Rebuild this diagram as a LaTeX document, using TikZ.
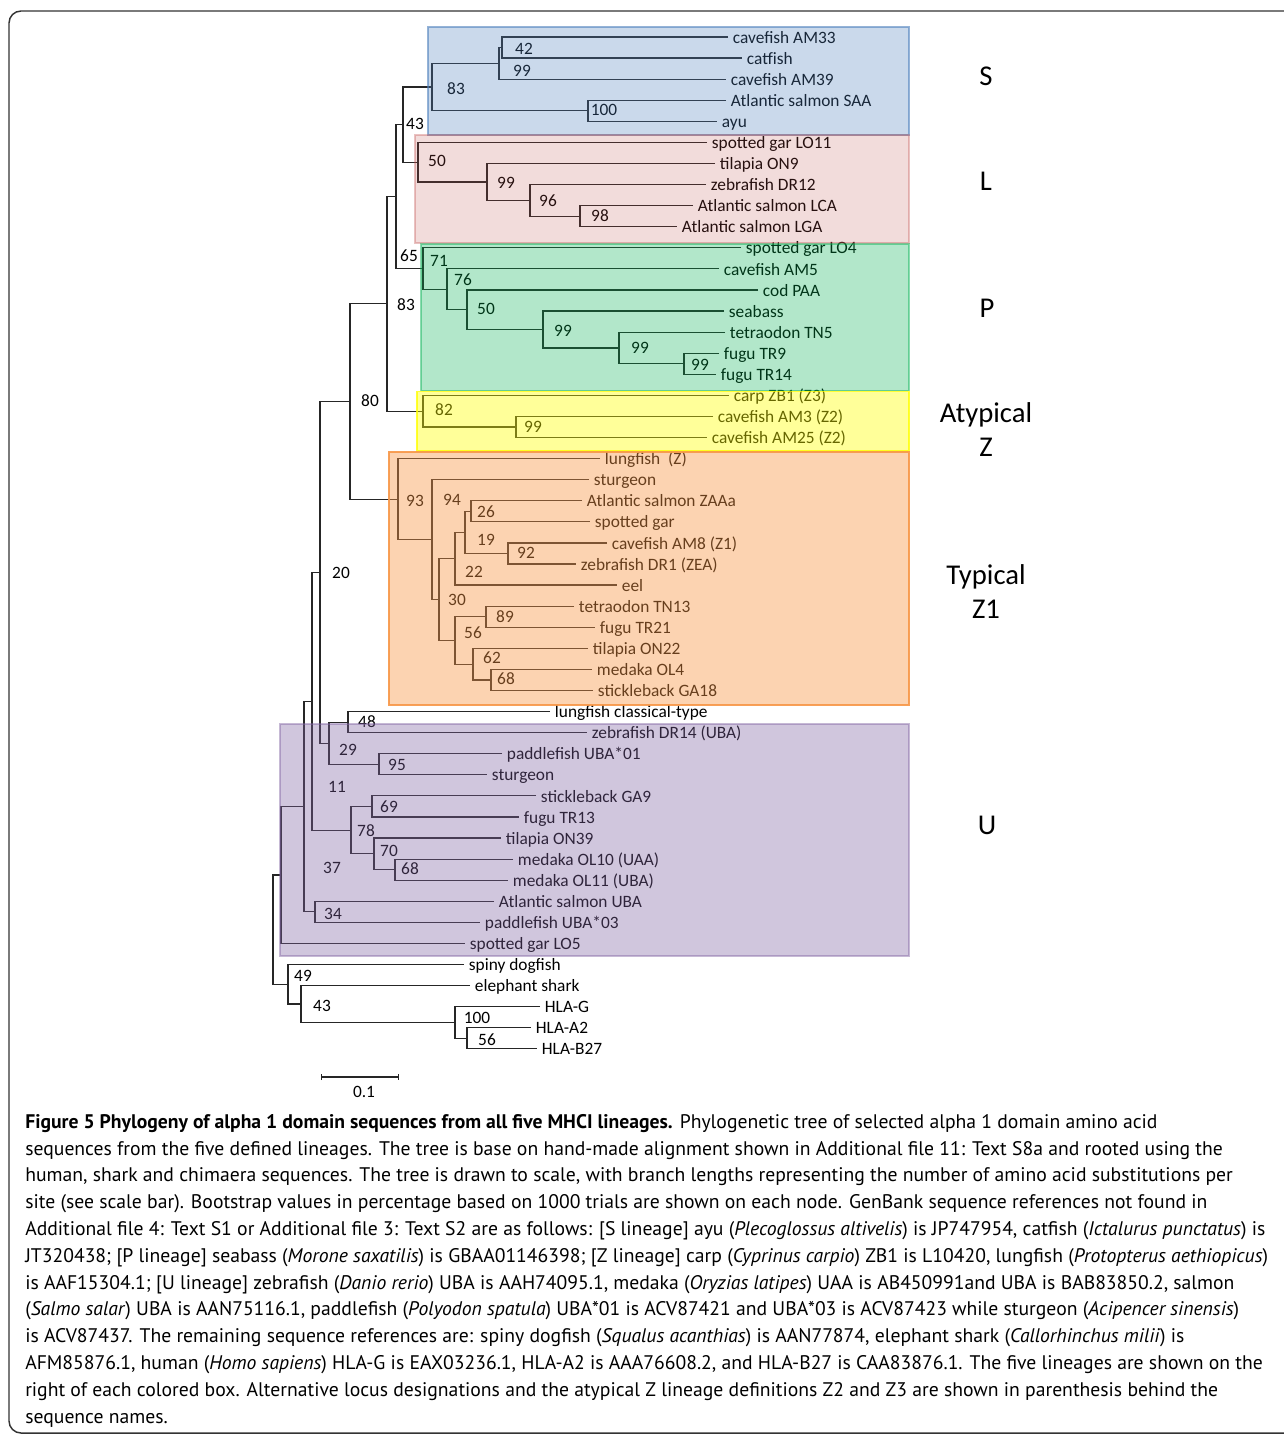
\documentclass[tikz,border=0pt]{standalone}
\usepackage{fontspec}
\setmainfont{Carlito}
\newfontfamily\figcapfont{PT Sans}
\usetikzlibrary{
    arrows.meta
}
\definecolor{lineS}{HTML}{4F81BD}
\definecolor{lineL}{HTML}{C0504D}
\definecolor{lineP}{HTML}{00B050}
\definecolor{lineZ}{HTML}{FFFF00}
\definecolor{lineZone}{HTML}{F79646}
\definecolor{lineU}{HTML}{8064A2}
\tikzset {
    branch/.style = {draw = black!85, line width = 0.9pt},
    leaf/.style = {
        anchor = west,
        inner xsep = 3.5pt,
        inner ysep = 0pt,
        text height = 0.92em,
        text depth = 0pt,
        font = \fontsize{13}{15}\selectfont
    },
    boot/.style = {
        inner sep = 0pt,
        text height = 0.64em,
        text depth = 0pt,
        font = \fontsize{13}{15}\selectfont
    },
    lineage/.style args = {#1/#2/#3}{
        fill = #1, fill opacity = #2,
        draw = #1, draw opacity = #3,
        line width = 0.8pt
    },
    clade/.style = {
        align = center,
        font = \fontsize{21.5}{25.5}\selectfont
    },
    frame/.style = {
        draw = black!80, line width = 1.1pt, rounded corners = 9pt
    },
    caption/.style = {
        anchor = north west,
        align = left,
        inner sep = 0pt,
        font = \figcapfont\fontsize{14.75}{20.1}\selectfont
    }
}

\begin{document}
\begin{tikzpicture}[
        x = 0.75pt, y = -0.75pt,
        declare function = {row(\r) = 37 + 21.08*(\r - 1);}
    ]
    \useasboundingbox (0, 0) rectangle (1284, 1435);
    \draw [frame] (9, 11) rectangle (1300, 1433);
    %
    \foreach \xe/\lf [count = \i] in {
        728/cavefish AM33, 742/catfish, 726/cavefish AM39,
        726/Atlantic salmon SAA, 717/ayu,
        707/spotted gar LO11, 715/tilapia ON9, 706/zebrafish DR12,
        693/Atlantic salmon LCA, 677/Atlantic salmon LGA,
        741/spotted gar LO4, 719/cavefish AM5, 758/cod PAA, 724/seabass,
        725/tetraodon TN5, 719/fugu TR9, 716/fugu TR14,
        729/carp ZB1 (Z3), 713/cavefish AM3 (Z2), 707/cavefish AM25 (Z2),
        600/lungfish~~(Z), 589/sturgeon, 582/Atlantic salmon ZAAa,
        590/spotted gar, 607/cavefish AM8 (Z1), 576/zebrafish DR1 (ZEA),
        617/eel, 574/tetraodon TN13, 595/fugu TR21, 588/tilapia ON22,
        592/medaka OL4, 593/stickleback GA18,
        550/lungfish classical-type, 587/zebrafish DR14 (UBA),
        502/paddlefish UBA*01, 487/sturgeon, 536/stickleback GA9,
        519/fugu TR13, 501/tilapia ON39, 513/medaka OL10 (UAA),
        508/medaka OL11 (UBA), 494/Atlantic salmon UBA,
        480/paddlefish UBA*03, 465/spotted gar LO5,
        464/spiny dogfish, 470/elephant shark,
        540/HLA-G, 531/HLA-A2, 537/HLA-B27
    }
        \node [leaf] (l\i) at (\xe, {row(\i)}) {\lf};
    %
    % S
    \draw [branch] (l1) -| (502, {row(1.5)}) coordinate (s42) |- (l2);
    \draw [branch] (s42) -| (499, {row(2.25)}) coordinate (s99) |- (l3);
    \draw [branch] (l4) -| (588, {row(4.5)}) coordinate (s100) |- (l5);
    \draw [branch] (s99) -| (432, {row(3.375)}) coordinate (s83) |- (s100);
    \node [boot] (s42b) at (524, 50) {42};
    \node [boot] (s99b) at (522, 72) {99};
    \node [boot] (s83b) at (456, 90) {83};
    \node [boot] (s100b) at (604, 111) {100};
    % L
    \draw [branch] (l9) -| (580, {row(9.5)}) coordinate (g98) |- (l10);
    \draw [branch] (l8) -| (530, {row(8.75)}) coordinate (g96) |- (g98);
    \draw [branch] (l7) -| (487, {row(7.875)}) coordinate (g99) |- (g96);
    \draw [branch] (l6) -| (418, {row(6.9375)}) coordinate (g50) |- (g99);
    \draw [branch] (s83) -| (403, {row(5.15625)}) coordinate (n43) |- (g50);
    \node [boot] (g50b) at (437, 162) {50};
    \node [boot] (g99b) at (506, 184) {99};
    \node [boot] (g96b) at (548, 202) {96};
    \node [boot] (g98b) at (600, 217) {98};
    \node [boot] (n43b) at (415, 125) {43};
    % P
    \draw [branch] (l16) -| (684, {row(16.5)}) coordinate (p99c) |- (l17);
    \draw [branch] (l15) -| (619, {row(15.75)}) coordinate (p99b) |- (p99c);
    \draw [branch] (l14) -| (543, {row(14.875)}) coordinate (p99a) |- (p99b);
    \draw [branch] (l13) -| (467, {row(13.9375)}) coordinate (p50) |- (p99a);
    \draw [branch] (l12) -| (447, {row(12.96875)}) coordinate (p76) |- (p50);
    \draw [branch] (l11) -| (423, {row(11.984375)}) coordinate (p71) |- (p76);
    \draw [branch] (n43) -| (396, {row(8.5703125)}) coordinate (n65) |- (p71);
    \node [boot] (n65b) at (409, 257) {65};
    \node [boot] (p71b) at (439, 262) {71};
    \node [boot] (p76b) at (463, 281) {76};
    \node [boot] (p50b) at (486, 310) {50};
    \node [boot] (p99ab) at (563, 332) {99};
    \node [boot] (p99bb) at (640, 349) {99};
    \node [boot] (p99cb) at (700, 366) {99};
    % atypical Z
    \draw [branch] (l19) -| (516, {row(19.5)}) coordinate (a99) |- (l20);
    \draw [branch] (l18) -| (423, {row(18.75)}) coordinate (a82) |- (a99);
    \draw [branch] (n65) -| (387, {row(13.66015625)}) coordinate (n83) |- (a82);
    \node [boot] (n83b) at (406, 306) {83};
    \node [boot] (a82b) at (444, 411) {82};
    \node [boot] (a99b) at (533, 428) {99};
    % typical Z1
    \draw [branch] (l23) -| (471, {row(23.5)}) coordinate (t26) |- (l24);
    \draw [branch] (l25) -| (508, {row(25.5)}) coordinate (t92) |- (l26);
    \draw [branch] (t26) -| (465, {row(24.5)}) coordinate (t19) |- (t92);
    \draw [branch] (t19) -| (455, {row(25.75)}) coordinate (t22) |- (l27);
    \draw [branch] (l28) -| (486, {row(28.5)}) coordinate (t89) |- (l29);
    \draw [branch] (l31) -| (491, {row(31.5)}) coordinate (t68) |- (l32);
    \draw [branch] (l30) -| (473, {row(30.75)}) coordinate (t62) |- (t68);
    \draw [branch] (t89) -| (455, {row(29.625)}) coordinate (t56) |- (t62);
    \draw [branch] (t22) -| (439, {row(27.6875)}) coordinate (t30) |- (t56);
    \draw [branch] (l22) -| (432, {row(24.84375)}) coordinate (t94) |- (t30);
    \draw [branch] (l21) -| (398, {row(22.921875)}) coordinate (t93) |- (t94);
    \draw [branch] (n83) -| (350, {row(18.291015625)}) coordinate (n80) |- (t93);
    \node [boot] (n80b) at (370, 402) {80};
    \node [boot] (t93b) at (415, 502) {93};
    \node [boot] (t94b) at (452, 501) {94};
    \node [boot] (t26b) at (486, 513) {26};
    \node [boot] (t19b) at (486, 541) {19};
    \node [boot] (t92b) at (526, 554) {92};
    \node [boot] (t22b) at (474, 573) {22};
    \node [boot] (t30b) at (457, 601) {30};
    \node [boot] (t89b) at (505, 618) {89};
    \node [boot] (t56b) at (473, 634) {56};
    \node [boot] (t62b) at (492, 659) {62};
    \node [boot] (t68b) at (506, 680) {68};
    % U
    \draw [branch] (l33) -| (348, {row(33.5)}) coordinate (u48) |- (l34);
    \draw [branch] (l35) -| (379, {row(35.5)}) coordinate (u95) |- (l36);
    \draw [branch] (u48) -| (329, {row(34.5)}) coordinate (u29) |- (u95);
    \draw [branch] (n80) -| (320, {row(26.3955)}) coordinate (n20) |- (u29);
    \draw [branch] (l37) -| (372, {row(37.5)}) coordinate (u69) |- (l38);
    \draw [branch] (l40) -| (395, {row(40.5)}) coordinate (u68) |- (l41);
    \draw [branch] (l39) -| (374, {row(39.75)}) coordinate (u70) |- (u68);
    \draw [branch] (u69) -| (351, {row(38.625)}) coordinate (u78) |- (u70);
    \draw [branch] (n20) -| (312, {row(32.5103)}) coordinate (n11) |- (u78);
    \draw [branch] (l42) -| (315, {row(42.5)}) coordinate (u34) |- (l43);
    \draw [branch] (n11) -| (304, {row(37.505)}) coordinate (n37) |- (u34);
    \draw [branch] (n37) -| (281, {row(40.75)}) coordinate (nU) |- (l44);
    \node [boot] (n20b) at (341, 574) {20};
    \node [boot] (u48b) at (367, 723) {48};
    \node [boot] (u29b) at (348, 751) {29};
    \node [boot] (u95b) at (397, 766) {95};
    \node [boot] (n11b) at (337, 788) {11};
    \node [boot] (u69b) at (389, 808) {69};
    \node [boot] (u78b) at (366, 832) {78};
    \node [boot] (u70b) at (389, 852) {70};
    \node [boot] (n37b) at (332, 869) {37};
    \node [boot] (u68b) at (410, 870) {68};
    \node [boot] (u34b) at (333, 915) {34};
    % sharks and human
    \draw [branch] (l48) -| (467, {row(48.5)}) coordinate (h56) |- (l49);
    \draw [branch] (l47) -| (455, {row(47.75)}) coordinate (h100) |- (h56);
    \draw [branch] (l46) -| (301, {row(46.875)}) coordinate (h43) |- (h100);
    \draw [branch] (l45) -| (288, {row(45.9375)}) coordinate (h49) |- (h43);
    \draw [branch] (nU) -| (273, {row(43.34)}) coordinate (root) |- (h49);
    \node [boot] (h49b) at (303, 977) {49};
    \node [boot] (h43b) at (322, 1007) {43};
    \node [boot] (h100b) at (477, 1019) {100};
    \node [boot] (h56b) at (487, 1041) {56};
    %
    \path [lineage = lineS/0.3/0.6] (428, 27) rectangle (909, 135);
    \path [lineage = lineL/0.2/0.35] (415, 135) rectangle (909, 243);
    \path [lineage = lineP/0.3/0.45] (421, 244) rectangle (909, 390.5);
    \path [lineage = lineZ/0.4/0.8] (417, 391.5) rectangle (909, 451);
    \path [lineage = lineZone/0.42/0.9] (389, 452) rectangle (909, 705);
    \path [lineage = lineU/0.37/0.45] (280, 724) rectangle (909, 956);
    %
    \node [clade] (cS) at (986, 76) {S};
    \node [clade] (cL) at (986, 181) {L};
    \node [clade] (cP) at (987, 308) {P};
    \node [clade] (cZ) at (986, 430) {Atypical\\Z};
    \node [clade] (cZone) at (986, 592) {Typical\\Z1};
    \node [clade] (cU) at (987, 825) {U};
    %
    \coordinate (sbl) at (321, 1077);
    \coordinate (sbr) at (399, 1077);
    \draw [branch, {Bar[width = 4.5pt]}-{Bar[width = 4.5pt]}] (sbl) -- (sbr);
    \node [boot] (sbt) at (364, 1093) {0.1};
    %
    \node [caption] (cap) at (25, 1114) {%
        \textbf{Figure 5 Phylogeny of alpha 1 domain sequences from all five MHCI lineages.} Phylogenetic tree of selected alpha 1 domain amino acid\\
        sequences from the five defined lineages. The tree is base on hand-made alignment shown in Additional file 11: Text S8a and rooted using the\\
        human, shark and chimaera sequences. The tree is drawn to scale, with branch lengths representing the number of amino acid substitutions per\\
        site (see scale bar). Bootstrap values in percentage based on 1000 trials are shown on each node. GenBank sequence references not found in\\
        Additional file 4: Text S1 or Additional file 3: Text S2 are as follows: [S lineage] ayu (\textit{Plecoglossus altivelis}) is JP747954, catfish (\textit{Ictalurus punctatus}) is\\
        JT320438; [P lineage] seabass (\textit{Morone saxatilis}) is GBAA01146398; [Z lineage] carp (\textit{Cyprinus carpio}) ZB1 is L10420, lungfish (\textit{Protopterus aethiopicus})\\
        is AAF15304.1; [U lineage] zebrafish (\textit{Danio rerio}) UBA is AAH74095.1, medaka (\textit{Oryzias latipes}) UAA is AB450991and UBA is BAB83850.2, salmon\\
        (\textit{Salmo salar}) UBA is AAN75116.1, paddlefish (\textit{Polyodon spatula}) UBA*01 is ACV87421 and UBA*03 is ACV87423 while sturgeon (\textit{Acipencer sinensis})\\
        is ACV87437. The remaining sequence references are: spiny dogfish (\textit{Squalus acanthias}) is AAN77874, elephant shark (\textit{Callorhinchus milii}) is\\
        AFM85876.1, human (\textit{Homo sapiens}) HLA-G is EAX03236.1, HLA-A2 is AAA76608.2, and HLA-B27 is CAA83876.1. The five lineages are shown on the\\
        right of each colored box. Alternative locus designations and the atypical Z lineage definitions Z2 and Z3 are shown in parenthesis behind the\\
        sequence names.};
\end{tikzpicture}
\end{document}
